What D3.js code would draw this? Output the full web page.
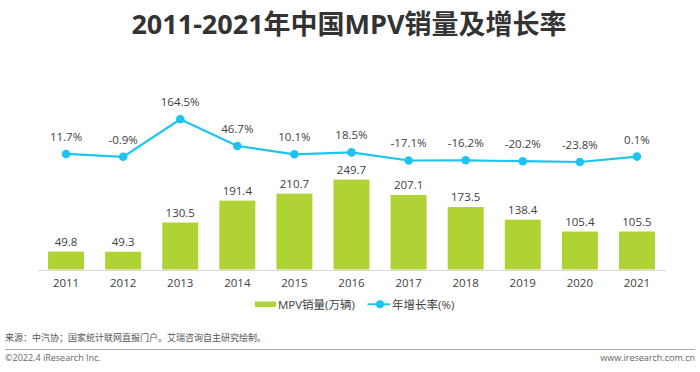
<!DOCTYPE html>
<html><head><meta charset="utf-8">
<script src="https://cdn.jsdelivr.net/npm/d3@7"></script>
<style>
body{margin:0;background:#fff;}
svg{display:block;font-family:"Open Sans","Noto Sans CJK SC",sans-serif;}
</style></head>
<body>
<svg id="c" width="700" height="372"></svg>
<script>
const years = ["2011","2012","2013","2014","2015","2016","2017","2018","2019","2020","2021"];
const sales = [49.8,49.3,130.5,191.4,210.7,249.7,207.1,173.5,138.4,105.4,105.5];
const growth = [11.7,-0.9,164.5,46.7,10.1,18.5,-17.1,-16.2,-20.2,-23.8,0.1];
const growthLabels = ["11.7%","-0.9%","164.5%","46.7%","10.1%","18.5%","-17.1%","-16.2%","-20.2%","-23.8%","0.1%"];
const title = "2011-2021年中国MPV销量及增长率";
const legendNames = ["MPV销量(万辆)","年增长率(%)"];
const sourceText = "来源：中汽协；国家统计联网直报门户。艾瑞咨询自主研究绘制。";
const copyright = "©2022.4 iResearch Inc.";
const website = "www.iresearch.com.cn";

const svg = d3.select("#c");
const green = "#afd235", cyan = "#1cc4ef", txt = "#404040";

svg.append("text").attr("x",349).attr("y",34).attr("text-anchor","middle")
  .attr("font-size",27).attr("font-weight","bold").attr("fill","#333").text(title);

const x = d3.scaleBand().domain(years).range([37.5,665.5]).paddingInner(0.37).paddingOuter(0.185);
const yBar = d3.scaleLinear().domain([0,700]).range([269.5,17.5]);
const yLine = d3.scaleLinear().domain([-100,200]).range([179.3,111.2]);

// bars
svg.append("g").selectAll("rect").data(years).join("rect")
  .attr("x",d=>x(d)).attr("width",x.bandwidth())
  .attr("y",(d,i)=>yBar(sales[i])).attr("height",(d,i)=>yBar(0)-yBar(sales[i]))
  .attr("fill",green);
svg.append("g").selectAll("text").data(years).join("text")
  .attr("x",d=>x(d)+x.bandwidth()/2).attr("y",(d,i)=>yBar(sales[i])-6)
  .attr("text-anchor","middle").attr("font-size",11.5).attr("fill",txt)
  .text((d,i)=>sales[i].toFixed(1));

// axis
const ax = svg.append("g").attr("transform","translate(0,270)")
  .call(d3.axisBottom(x).tickSize(0).tickPadding(9));
ax.select(".domain").attr("stroke","#d9d9d9").attr("stroke-width",1.2);
ax.selectAll("text").attr("font-size",11.5).attr("fill",txt).attr("font-family","'Open Sans',sans-serif");

// line
const cx = d=>x(d)+x.bandwidth()/2;
const line = d3.line().x((d,i)=>cx(years[i])).y(d=>yLine(d));
svg.append("path").datum(growth).attr("d",line).attr("fill","none")
  .attr("stroke",cyan).attr("stroke-width",2.2);
svg.append("g").selectAll("circle").data(growth).join("circle")
  .attr("cx",(d,i)=>cx(years[i])).attr("cy",d=>yLine(d)).attr("r",4.3).attr("fill",cyan);
svg.append("g").selectAll("text").data(growth).join("text")
  .attr("x",(d,i)=>cx(years[i])).attr("y",d=>yLine(d)-13)
  .attr("text-anchor","middle").attr("font-size",11.5).attr("fill",txt)
  .text((d,i)=>growthLabels[i]);

// legend
const lg = svg.append("g");
lg.append("rect").attr("x",255).attr("y",301.5).attr("width",21).attr("height",5.5).attr("fill",green);
lg.append("text").attr("x",278).attr("y",308.5).attr("font-size",11.5).attr("fill",txt).text(legendNames[0]);
lg.append("line").attr("x1",367.5).attr("x2",390).attr("y1",304.3).attr("y2",304.3).attr("stroke",cyan).attr("stroke-width",2);
lg.append("circle").attr("cx",380).attr("cy",304.3).attr("r",4).attr("fill",cyan);
lg.append("text").attr("x",392).attr("y",308.5).attr("font-size",11.5).attr("fill",txt).text(legendNames[1]);

// footer
svg.append("text").attr("x",5).attr("y",341).attr("font-size",9).attr("fill","#555").text(sourceText);
svg.append("line").attr("x1",5).attr("x2",695).attr("y1",349.5).attr("y2",349.5).attr("stroke","#aaa").attr("stroke-width",1);
svg.append("text").attr("x",5).attr("y",361).attr("font-size",9).attr("fill","#666").text(copyright);
svg.append("text").attr("x",695).attr("y",361).attr("text-anchor","end").attr("font-size",9).attr("fill","#666").text(website);
</script>
</body></html>
